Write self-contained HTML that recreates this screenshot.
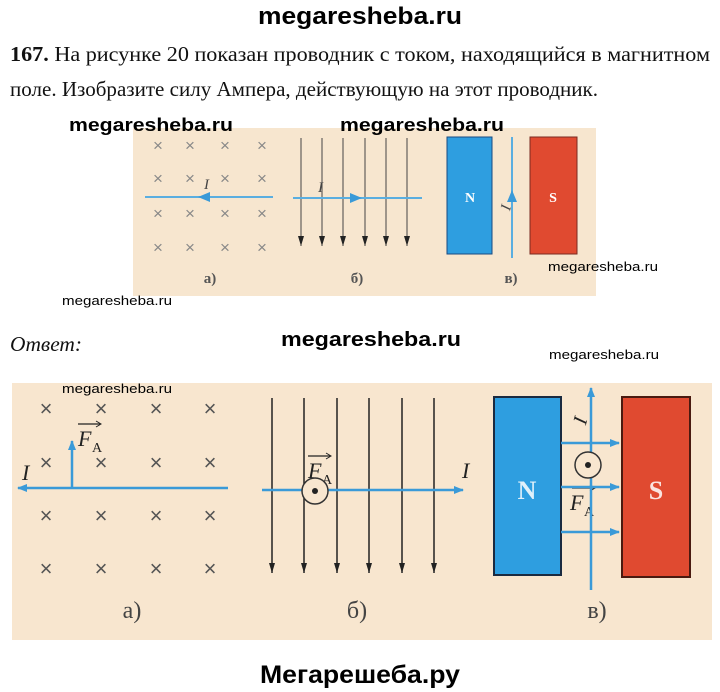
<!DOCTYPE html>
<html><head><meta charset="utf-8"><style>
html,body{margin:0;padding:0;background:#fff;width:720px;height:692px;overflow:hidden}
</style></head><body>
<svg width="720" height="692" viewBox="0 0 720 692" xmlns="http://www.w3.org/2000/svg">
<defs>
<marker id="bh" markerWidth="10" markerHeight="8" refX="9" refY="4" orient="auto" markerUnits="userSpaceOnUse"><path d="M0,0 L10,4 L0,8 z" fill="#3a9ad8"/></marker>
<marker id="kh" markerWidth="6" markerHeight="10" refX="3" refY="10" orient="0" markerUnits="userSpaceOnUse"><path d="M0,0 L6,0 L3,10 z" fill="#222"/></marker>
</defs>
<g font-family="Liberation Sans, sans-serif" font-weight="bold" fill="#000">
<text x="360" y="24" font-size="24" text-anchor="middle" textLength="204" lengthAdjust="spacingAndGlyphs">megaresheba.ru</text>
</g>
<g font-family="Liberation Serif, serif" font-size="21" fill="#111">
<text x="10" y="61" textLength="700" lengthAdjust="spacingAndGlyphs"><tspan font-weight="bold">167.</tspan> На рисунке 20 показан проводник с током, находящийся в магнитном</text>
<text x="10" y="96" textLength="588" lengthAdjust="spacingAndGlyphs">поле. Изобразите силу Ампера, действующую на этот проводник.</text>
<text x="10" y="351" font-style="italic" textLength="72" lengthAdjust="spacingAndGlyphs">Ответ:</text>
</g>
<rect x="133" y="128" width="463" height="168" fill="#f7e6cf"/>
<g font-family="Liberation Sans, sans-serif" font-weight="bold" font-size="18">
<text x="69" y="131" textLength="164" lengthAdjust="spacingAndGlyphs">megaresheba.ru</text>
<text x="340" y="131" textLength="164" lengthAdjust="spacingAndGlyphs">megaresheba.ru</text>
<text x="281" y="346" font-size="20" textLength="180" lengthAdjust="spacingAndGlyphs">megaresheba.ru</text>
<text x="327" y="515" font-size="20" textLength="166" lengthAdjust="spacingAndGlyphs">megaresheba.ru</text>
<text x="56" y="555" font-size="20" textLength="166" lengthAdjust="spacingAndGlyphs">megaresheba.ru</text>
<text x="600" y="589" font-size="10" textLength="84" lengthAdjust="spacingAndGlyphs">megaresheba.ru</text>
</g>
<g font-family="Liberation Sans, sans-serif" font-size="13">
<text x="548" y="271" textLength="110" lengthAdjust="spacingAndGlyphs">megaresheba.ru</text>
<text x="62" y="305" textLength="110" lengthAdjust="spacingAndGlyphs">megaresheba.ru</text>
<text x="549" y="359" textLength="110" lengthAdjust="spacingAndGlyphs">megaresheba.ru</text>
</g>
<g font-family="Liberation Sans, sans-serif" font-size="17" fill="#888" text-anchor="middle">
<text x="158" y="151">×</text><text x="190" y="151">×</text><text x="225" y="151">×</text><text x="262" y="151">×</text>
<text x="158" y="184">×</text><text x="190" y="184">×</text><text x="225" y="184">×</text><text x="262" y="184">×</text>
<text x="158" y="219">×</text><text x="190" y="219">×</text><text x="225" y="219">×</text><text x="262" y="219">×</text>
<text x="158" y="253">×</text><text x="190" y="253">×</text><text x="225" y="253">×</text><text x="262" y="253">×</text>
</g>
<line x1="145" y1="197" x2="273" y2="197" stroke="#5aaee0" stroke-width="2"/>
<path d="M198,197 L210,192 L210,202 z" fill="#3a9ad8"/>
<g stroke="#444" stroke-width="1">
<line x1="301" y1="138" x2="301" y2="246" marker-end="url(#kh)"/><line x1="322" y1="138" x2="322" y2="246" marker-end="url(#kh)"/><line x1="343" y1="138" x2="343" y2="246" marker-end="url(#kh)"/><line x1="365" y1="138" x2="365" y2="246" marker-end="url(#kh)"/><line x1="386" y1="138" x2="386" y2="246" marker-end="url(#kh)"/><line x1="407" y1="138" x2="407" y2="246" marker-end="url(#kh)"/>
</g>
<line x1="293" y1="198" x2="422" y2="198" stroke="#5aaee0" stroke-width="2"/>
<path d="M362,198 L350,193 L350,203 z" fill="#3a9ad8"/>
<rect x="447" y="137" width="45" height="117" fill="#2e9ee0" stroke="#1a4a80"/>
<rect x="530" y="137" width="47" height="117" fill="#e04a30" stroke="#7a2a20"/>
<line x1="512" y1="137" x2="512" y2="258" stroke="#5aaee0" stroke-width="2"/>
<path d="M512,190 L507,202 L517,202 z" fill="#3a9ad8"/>
<g font-family="Liberation Serif, serif" font-weight="bold" font-size="14" fill="#fff" text-anchor="middle"><text x="470" y="202">N</text><text x="553" y="202">S</text></g>
<g font-family="Liberation Serif, serif" font-style="italic" font-size="15" fill="#444">
<text x="204" y="189">I</text><text x="318" y="192">I</text>
<text x="505" y="215" transform="rotate(-75 505 210)">I</text>
</g>
<g font-family="Liberation Serif, serif" font-weight="bold" font-size="15" fill="#555" text-anchor="middle">
<text x="210" y="283">а)</text><text x="357" y="283">б)</text><text x="511" y="283">в)</text>
</g>
<rect x="12" y="383" width="700" height="257" fill="#f8e6cf"/>
<text x="62" y="393" font-family="Liberation Sans, sans-serif" font-size="13" textLength="110" lengthAdjust="spacingAndGlyphs">megaresheba.ru</text>
<g font-family="Liberation Sans, sans-serif" font-size="22" fill="#555" text-anchor="middle">
<text x="46" y="416">×</text><text x="101" y="416">×</text><text x="156" y="416">×</text><text x="210" y="416">×</text>
<text x="46" y="470">×</text><text x="101" y="470">×</text><text x="156" y="470">×</text><text x="210" y="470">×</text>
<text x="46" y="523">×</text><text x="101" y="523">×</text><text x="156" y="523">×</text><text x="210" y="523">×</text>
<text x="46" y="576">×</text><text x="101" y="576">×</text><text x="156" y="576">×</text><text x="210" y="576">×</text>
</g>
<line x1="228" y1="488" x2="18" y2="488" stroke="#3a9ad8" stroke-width="2.5" marker-end="url(#bh)"/>
<line x1="72" y1="488" x2="72" y2="441" stroke="#3a9ad8" stroke-width="2.5" marker-end="url(#bh)"/>
<g font-family="Liberation Serif, serif" font-style="italic" font-size="22" fill="#222">
<text x="78" y="446">F</text><text x="22" y="480">I</text>
<text x="308" y="478">F</text><text x="462" y="478">I</text>
<text x="570" y="510">F</text>
</g>
<g font-family="Liberation Serif, serif" font-size="14" fill="#222"><text x="92" y="452">A</text><text x="322" y="484">A</text><text x="584" y="516">A</text></g>
<g stroke="#222" stroke-width="1.2"><line x1="78" y1="424" x2="100" y2="424"/><line x1="308" y1="456" x2="330" y2="456"/><line x1="572" y1="488" x2="594" y2="488"/></g>
<path d="M96,421 L101,424 L96,427" fill="none" stroke="#222"/><path d="M326,453 L331,456 L326,459" fill="none" stroke="#222"/><path d="M590,485 L595,488 L590,491" fill="none" stroke="#222"/>
<g stroke="#222" stroke-width="1.5">
<line x1="272" y1="398" x2="272" y2="573" marker-end="url(#kh)"/><line x1="304" y1="398" x2="304" y2="573" marker-end="url(#kh)"/><line x1="337" y1="398" x2="337" y2="573" marker-end="url(#kh)"/><line x1="369" y1="398" x2="369" y2="573" marker-end="url(#kh)"/><line x1="402" y1="398" x2="402" y2="573" marker-end="url(#kh)"/><line x1="434" y1="398" x2="434" y2="573" marker-end="url(#kh)"/>
</g>
<line x1="262" y1="490" x2="463" y2="490" stroke="#3a9ad8" stroke-width="2.5" marker-end="url(#bh)"/>
<circle cx="315" cy="491" r="13" fill="#f8e6cf" stroke="#333" stroke-width="1.5"/><circle cx="315" cy="491" r="3" fill="#222"/>
<rect x="494" y="397" width="67" height="178" fill="#2e9ee0" stroke="#1a2a40" stroke-width="2"/>
<rect x="622" y="397" width="68" height="180" fill="#e04a30" stroke="#4a1a10" stroke-width="2"/>
<g font-family="Liberation Serif, serif" font-weight="bold" font-size="26" fill="#fff" text-anchor="middle" opacity="0.85"><text x="527" y="499">N</text><text x="656" y="499">S</text></g>
<line x1="591" y1="590" x2="591" y2="388" stroke="#3a9ad8" stroke-width="2.5" marker-end="url(#bh)"/>
<g stroke="#3a9ad8" stroke-width="2.5"><line x1="561" y1="443" x2="619" y2="443" marker-end="url(#bh)"/><line x1="561" y1="487" x2="619" y2="487" marker-end="url(#bh)"/><line x1="561" y1="532" x2="619" y2="532" marker-end="url(#bh)"/></g>
<circle cx="588" cy="465" r="13" fill="#f8e6cf" stroke="#333" stroke-width="1.5"/><circle cx="588" cy="465" r="3" fill="#222"/>
<text x="580" y="430" font-family="Liberation Serif, serif" font-style="italic" font-size="20" fill="#222" transform="rotate(-75 580 424)">I</text>
<g font-family="Liberation Serif, serif" font-size="24" fill="#444" text-anchor="middle"><text x="132" y="618">а)</text><text x="357" y="618">б)</text><text x="597" y="618">в)</text></g>
<text x="360" y="683" font-family="Liberation Sans, sans-serif" font-weight="bold" font-size="25" text-anchor="middle" textLength="200" lengthAdjust="spacingAndGlyphs">Мегарешеба.ру</text>
</svg>
</body></html>
